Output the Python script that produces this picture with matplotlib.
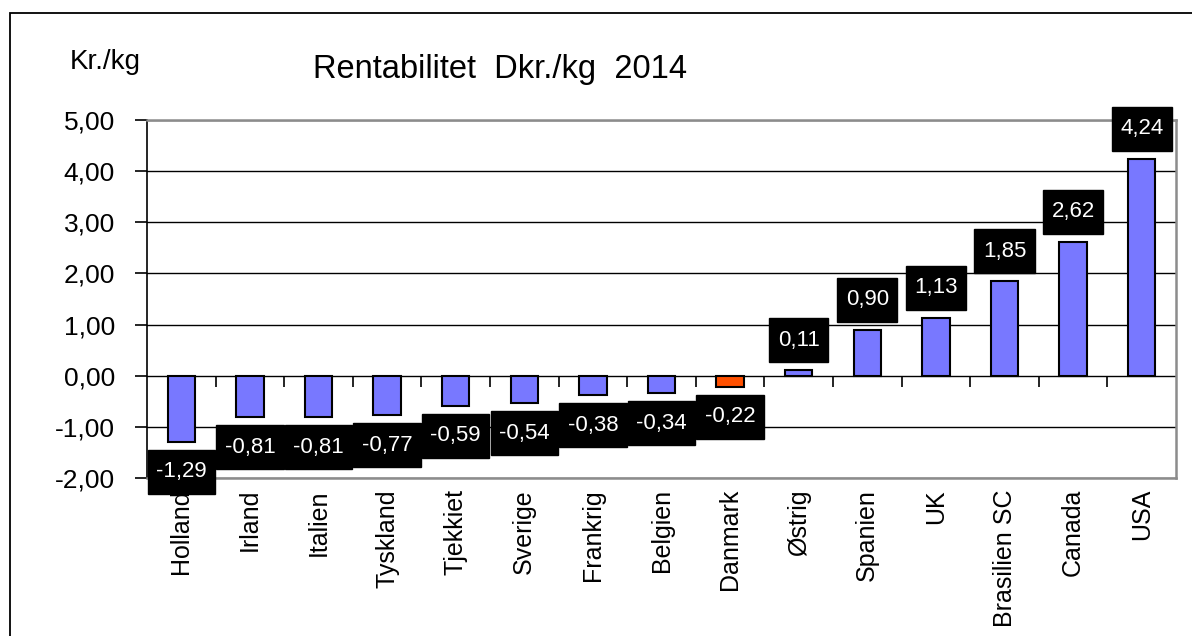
import matplotlib
matplotlib.use("Agg")
import matplotlib.pyplot as plt
from matplotlib.patches import Rectangle
from matplotlib.path import Path

plt.rcParams['font.family'] = ['Liberation Sans', 'DejaVu Sans']

countries = ["Holland", "Irland", "Italien", "Tyskland", "Tjekkiet", "Sverige",
             "Frankrig", "Belgien", "Danmark", "Østrig", "Spanien", "UK",
             "Brasilien SC", "Canada", "USA"]
values = [-1.29, -0.81, -0.81, -0.77, -0.59, -0.54, -0.38, -0.34, -0.22,
          0.11, 0.90, 1.13, 1.85, 2.62, 4.24]
highlight = "Danmark"
y_ticks = [-2, -1, 0, 1, 2, 3, 4, 5]
y_ticklabels = ["-2,00", "-1,00", "0,00", "1,00", "2,00", "3,00", "4,00", "5,00"]
title = "Rentabilitet  Dkr./kg  2014"
unit_label = "Kr./kg"

W, H = 1192, 636
fig = plt.figure(figsize=(W / 100, H / 100), dpi=100)
fig.patch.set_facecolor("white")

# outer frame (clipped at right and bottom like the reference)
fig.add_artist(Rectangle((10 / W, -0.2), 1.5, (H - 13) / H + 0.2, transform=fig.transFigure,
                         fill=False, edgecolor="black", linewidth=1.3))

ax = fig.add_axes([147 / W, (H - 478) / H, (1176 - 147) / W, (478 - 120) / H])

x = list(range(len(countries)))
colors = ["#FF5000" if c == highlight else "#7878FF" for c in countries]
ax.bar(x, values, width=0.4, color=colors, edgecolor="black", linewidth=1.5, zorder=3)

ax.set_xlim(-0.5, len(countries) - 0.5)
ax.set_ylim(-2, 5)

# gridlines
for yt in y_ticks:
    ax.axhline(yt, color="black", linewidth=1.0, zorder=1)

# zero axis tick marks at category boundaries
bounds = [i + 0.5 for i in x[:-1]]
ax.plot(bounds, [0] * len(bounds), linestyle="none", marker=3, markersize=8,
        markeredgewidth=1.2, color="black", zorder=2)

for side in ["top", "right", "bottom"]:
    ax.spines[side].set_color("#8c8c8c")
    ax.spines[side].set_linewidth(1.8)
ax.spines["left"].set_color("black")
ax.spines["left"].set_linewidth(1.2)

ax.set_yticks(y_ticks)
ax.set_yticklabels(y_ticklabels, fontsize=19)
ax.tick_params(axis="y", direction="out", length=9, width=1.2, pad=14)
ax.set_xticks(x)
ax.set_xticklabels(countries, rotation=90, fontsize=18, va="top", ha="center")
ax.tick_params(axis="x", length=0, pad=8)


def tallbox(x0, y0, width, height, mutation_size):
    px = 0.38 * mutation_size
    py = 0.52 * mutation_size
    xa, xb = x0 - px, x0 + width + px
    ya, yb = y0 - py, y0 + height + py
    return Path([(xa, ya), (xb, ya), (xb, yb), (xa, yb), (xa, ya)],
                [Path.MOVETO, Path.LINETO, Path.LINETO, Path.LINETO, Path.CLOSEPOLY])


# data labels
for xi, v in zip(x, values):
    off = 30 if v >= 0 else -30
    ax.annotate(f"{v:.2f}".replace(".", ","), xy=(xi, v), xytext=(0, off * 0.72),
                textcoords="offset points", ha="center", va="center",
                fontsize=16, color="white", zorder=5, annotation_clip=False,
                bbox=dict(boxstyle=tallbox, facecolor="black", edgecolor="black"))

fig.text(313 / W, 1 - 78 / H, title, fontsize=23.5, ha="left", va="baseline")
fig.text(70 / W, 1 - 69 / H, unit_label, fontsize=20, ha="left", va="baseline")

fig.savefig("out.png", dpi=100)
